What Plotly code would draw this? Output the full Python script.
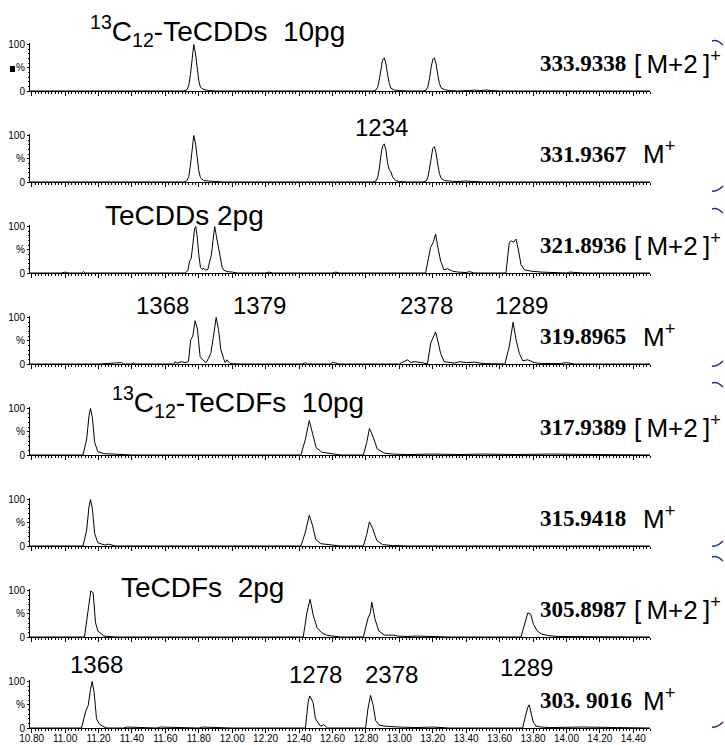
import plotly.graph_objects as go

W, H = 725, 745
X_RANGE = [10.79, 14.50]

# ---------------- data (retention time [min], relative intensity [%]) ----------------
P1_T = [10.79, 11.20, 11.50, 11.71, 11.73, 11.74, 11.75, 11.76, 11.77, 11.78, 11.79, 11.80, 11.81, 11.83, 11.86, 11.90,
        12.20, 12.50, 12.84, 12.86, 12.87, 12.88, 12.89, 12.90, 12.91, 12.92, 12.93, 12.94, 12.95, 12.97, 13.00, 13.05,
        13.14, 13.16, 13.17, 13.18, 13.19, 13.20, 13.21, 13.22, 13.23, 13.24, 13.25, 13.27, 13.30, 13.35, 13.42, 13.45,
        13.48, 13.52, 13.55, 13.60, 14.50]
P1_I = [0, 0, 0, 0, 3, 12, 35, 75, 100, 82, 50, 22, 8, 3, 1, 0,
        0, 0, 0, 2, 8, 24, 50, 68, 71, 58, 35, 16, 6, 2, 1, 0,
        0, 2, 8, 25, 50, 68, 71, 58, 35, 16, 7, 3, 1, 0, 1, 2,
        1, 2, 1, 0, 0]

P2_T = [10.79, 11.71, 11.73, 11.74, 11.75, 11.76, 11.77, 11.78, 11.79, 11.80, 11.81, 11.83, 11.86, 11.90, 11.95,
        12.84, 12.86, 12.87, 12.88, 12.89, 12.90, 12.91, 12.92, 12.93, 12.94, 12.95, 12.96, 12.98, 13.00, 13.05,
        13.14, 13.16, 13.17, 13.18, 13.19, 13.20, 13.21, 13.22, 13.23, 13.24, 13.25, 13.27, 13.30, 13.35, 13.40,
        13.45, 13.50, 14.50]
P2_I = [0, 0, 3, 12, 36, 76, 100, 84, 52, 24, 9, 3, 2, 1, 0,
        0, 2, 9, 28, 58, 78, 82, 68, 40, 26, 22, 10, 3, 1, 0,
        0, 2, 9, 28, 55, 72, 76, 62, 38, 18, 8, 3, 2, 1, 2,
        1, 0, 0]

P3_T = [10.79, 10.98, 11.00, 11.02, 11.10, 11.11, 11.12, 11.72, 11.735, 11.745, 11.755, 11.765, 11.775, 11.782,
        11.79, 11.80, 11.81, 11.82, 11.83, 11.84, 11.855, 11.865, 11.875, 11.885, 11.895, 11.905, 11.912, 11.92,
        11.93, 11.94, 11.95, 11.97, 12.00, 12.03, 12.20, 12.22, 12.24, 12.60, 12.62, 12.64, 13.157, 13.187, 13.203,
        13.217, 13.227, 13.247, 13.267, 13.288, 13.318, 13.35, 13.40, 13.42, 13.45, 13.638, 13.658, 13.672, 13.684,
        13.698, 13.712, 13.728, 13.748, 13.788, 13.848, 13.90, 14.00, 14.02, 14.10, 14.50]
P3_I = [0, 0, 2, 0, 0, 3, 0, 0, 6, 25, 32, 60, 95, 100,
        80, 40, 12, 8, 10, 6, 8, 25, 38, 70, 100, 80, 66, 58,
        30, 12, 6, 3, 2, 0, 0, 2, 0, 0, 2, 0, 0, 55, 66,
        84, 62, 26, 7, 9, 4, 2, 1, 3, 0, 0, 66, 69, 66,
        73, 51, 18, 7, 4, 2, 1, 0, 2, 0, 0]

P4_T = [10.79, 11.20, 11.338, 11.35, 11.40, 11.408, 11.42, 11.65, 11.658, 11.67, 11.698, 11.718, 11.738, 11.752,
        11.764, 11.778, 11.792, 11.808, 11.824, 11.844, 11.848, 11.872, 11.888, 11.904, 11.918, 11.932, 11.948,
        11.958, 11.968, 11.988, 12.05, 12.42, 12.438, 12.45, 12.59, 12.60, 12.62, 12.64, 13.00, 13.048, 13.07,
        13.088, 13.138, 13.168, 13.188, 13.203, 13.217, 13.231, 13.247, 13.268, 13.30, 13.33, 13.36, 13.40, 13.45,
        13.50, 13.632, 13.658, 13.681, 13.698, 13.718, 13.738, 13.768, 13.808, 13.85, 13.95, 13.97, 14.00, 14.05,
        14.50]
P4_I = [0, 0, 3, 0, 0, 3, 0, 0, 5, 2, 5, 3, 5, 53,
        60, 93, 75, 16, 9, 3, 5, 23, 60, 100, 74, 31, 12,
        3, 9, 1, 0, 0, 3, 0, 0, 4, 2, 0, 0, 9, 3,
        5, 3, 0, 45, 56, 69, 49, 23, 5, 4, 2, 5, 3, 4,
        1, 0, 38, 90, 53, 23, 7, 9, 3, 1, 2, 1, 3, 0,
        0]

P5_T = [10.79, 11.107, 11.129, 11.143, 11.152, 11.163, 11.177, 11.196, 11.232, 11.33, 11.40, 12.411, 12.438,
        12.461, 12.48, 12.502, 12.536, 12.605, 12.65, 12.785, 12.805, 12.821, 12.841, 12.868, 12.91, 12.96, 13.05,
        13.20, 13.35, 13.50, 13.70, 13.90, 14.10, 14.30, 14.50]
P5_I = [0, 0, 34, 84, 100, 81, 27, 7, 3, 2, 0, 0, 34,
        74, 49, 16, 6, 2, 0, 0, 27, 57, 41, 13, 4, 2, 1,
        2, 1, 2, 1, 2, 1, 1, 0]

P6_T = [10.79, 11.107, 11.129, 11.143, 11.152, 11.163, 11.177, 11.196, 11.22, 11.24, 11.26, 11.30, 12.411,
        12.438, 12.461, 12.48, 12.50, 12.53, 12.60, 12.65, 12.785, 12.805, 12.821, 12.84, 12.865, 12.90, 12.96,
        13.05, 14.50]
P6_I = [0, 0, 34, 84, 100, 81, 27, 7, 4, 2, 4, 0, 0,
        30, 66, 45, 14, 5, 2, 0, 0, 25, 52, 38, 12, 3, 1,
        0, 0]

P7_T = [10.79, 11.116, 11.141, 11.154, 11.168, 11.182, 11.196, 11.213, 11.232, 11.30, 12.425, 12.447, 12.466,
        12.486, 12.508, 12.536, 12.564, 12.60, 12.65, 12.785, 12.813, 12.827, 12.835, 12.855, 12.877, 12.91, 12.965,
        12.99, 13.05, 13.10, 13.20, 13.30, 13.728, 13.756, 13.769, 13.786, 13.803, 13.825, 13.853, 13.894, 13.95,
        14.50]
P7_I = [0, 0, 66, 99, 95, 31, 13, 8, 2, 0, 0, 52, 81,
        45, 20, 9, 4, 2, 0, 0, 41, 52, 75, 38, 13, 4, 4,
        2, 1, 2, 1, 0, 0, 38, 52, 49, 27, 13, 6, 3, 1,
        0]

P8_T = [10.79, 11.098, 11.124, 11.138, 11.152, 11.162, 11.174, 11.188, 11.204, 11.224, 11.25, 11.35, 11.37,
        11.55, 11.57, 11.80, 11.82, 12.00, 12.438, 12.454, 12.464, 12.474, 12.484, 12.498, 12.512, 12.528, 12.548,
        12.57, 12.798, 12.812, 12.828, 12.844, 12.858, 12.878, 12.908, 12.948, 13.00, 13.10, 13.20, 13.30, 13.738,
        13.753, 13.768, 13.777, 13.787, 13.801, 13.818, 13.848, 13.90, 14.10, 14.30, 14.50]
P8_I = [0, 0, 37, 48, 83, 100, 76, 20, 9, 4, 0, 0, 2,
        0, 2, 0, 2, 0, 0, 55, 69, 63, 55, 20, 13, 4, 7,
        0, 0, 41, 70, 48, 16, 7, 4, 3, 2, 1, 2, 0, 0,
        23, 44, 50, 37, 13, 4, 2, 1, 2, 1, 0]

TRACE_T = [P1_T, P2_T, P3_T, P4_T, P5_T, P6_T, P7_T, P8_T]
TRACE_I = [P1_I, P2_I, P3_I, P4_I, P5_I, P6_I, P7_I, P8_I]

MASS_LABELS = ["333.9338", "331.9367", "321.8936", "319.8965",
               "317.9389", "315.9418", "305.8987", "303. 9016"]
ION_LABELS = ["[\u2009M+2\u2009]<sup>+</sup>", "M<sup>+</sup>", "[\u2009M+2\u2009]<sup>+</sup>", "M<sup>+</sup>",
              "[\u2009M+2\u2009]<sup>+</sup>", "M<sup>+</sup>", "[\u2009M+2\u2009]<sup>+</sup>", "M<sup>+</sup>"]

X_TICK_VALS = [10.8, 11.0, 11.2, 11.4, 11.6, 11.8, 12.0, 12.2, 12.4, 12.6, 12.8, 13.0, 13.2, 13.4, 13.6,
               13.8, 14.0, 14.2, 14.4]
X_TICK_TEXT = ["10.80", "11.00", "11.20", "11.40", "11.60", "11.80", "12.00", "12.20", "12.40", "12.60",
               "12.80", "13.00", "13.20", "13.40", "13.60", "13.80", "14.00", "14.20", "14.40"]
Y_TICK_VALS = [0, 50, 100]
Y_TICK_TEXT = ["0", "%", "100"]

# in-plot text labels: (text, panel index, retention time of left edge, offset px above baseline)
ISOMER_LABELS = [
    ("1234", 1, 12.72, 55),
    ("1368", 3, 11.41, 59),
    ("1379", 3, 11.99, 59),
    ("2378", 3, 12.99, 59),
    ("1289", 3, 13.56, 59),
    ("1368", 7, 11.02, 64),
    ("1278", 7, 12.33, 54),
    ("2378", 7, 12.78, 54),
    ("1289", 7, 13.59, 61),
]
GROUP_TITLES = [
    ("<sup>13</sup>C<sub>12</sub>-TeCDDs\u00a0\u00a010pg", 0, 11.14, 60),
    ("TeCDDs 2pg", 2, 11.225, 58),
    ("<sup>13</sup>C<sub>12</sub>-TeCDFs\u00a0\u00a010pg", 4, 11.27, 53),
    ("TeCDFs\u00a0\u00a02pg", 6, 11.32, 50),
]

# ---------------- layout geometry ----------------
X0_PX, X1_PX = 30, 650
BASE0, STEP = 91, 91
PANEL_PX = 46.5
Y_TOP = 104


def base_px(i):
    return BASE0 + STEP * i


fig = go.Figure()
SANS = "Liberation Sans, Arial, sans-serif"
NARROW = "Liberation Sans Narrow, Arial Narrow, Liberation Sans, sans-serif"
SERIF = "Liberation Serif, Times New Roman, serif"

annotations = []
for i in range(8):
    ax = "" if i == 0 else str(i + 1)
    fig.add_trace(go.Scatter(x=TRACE_T[i], y=TRACE_I[i], mode="lines",
                             line=dict(color="black", width=1), xaxis="x" + ax, yaxis="y" + ax,
                             showlegend=False, hoverinfo="skip"))
    b = base_px(i)
    top = b - PANEL_PX * Y_TOP / 100.0
    fig.layout["xaxis" + ax] = dict(
        domain=[X0_PX / W, X1_PX / W], range=X_RANGE, anchor="y" + ax, automargin=False,
        showline=True, linecolor="black", linewidth=1, showgrid=False, zeroline=False,
        ticks="outside", ticklen=4, tickwidth=1, tickcolor="black",
        tickmode="array", tickvals=X_TICK_VALS, ticktext=X_TICK_TEXT,
        showticklabels=(i == 7), ticklabelstandoff=-3,
        tickfont=dict(family=NARROW, size=10, color="black"),
        minor=dict(ticks="outside", ticklen=2, tickcolor="black", dtick=0.02, tick0=10.8, showgrid=False),
    )
    fig.layout["yaxis" + ax] = dict(
        domain=[(H - b) / H, (H - top) / H], range=[0, Y_TOP], anchor="x" + ax, automargin=False,
        showline=True, linecolor="black", linewidth=1, showgrid=False, zeroline=False,
        ticks="outside", ticklen=2, tickcolor="black",
        tickmode="array", tickvals=Y_TICK_VALS, ticktext=Y_TICK_TEXT,
        tickfont=dict(family=NARROW, size=10, color="black"),
        minor=dict(ticks="outside", ticklen=1, tickcolor="black",
                   tickmode="array", tickvals=[10, 20, 30, 40, 60, 70, 80, 90]),
    )
    annotations.append(dict(xref="paper", yref="paper", x=538 / W, y=1 - (b - 28) / H,
                            xanchor="left", yanchor="middle", showarrow=False,
                            text="<b>%s</b>" % MASS_LABELS[i],
                            font=dict(family=SERIF, size=23, color="black")))
    ion_x = 632 if "M+2" in ION_LABELS[i] else 641
    annotations.append(dict(xref="paper", yref="paper", x=ion_x / W, y=1 - (b - 29) / H,
                            xanchor="left", yanchor="middle", showarrow=False,
                            text=ION_LABELS[i], font=dict(family=SANS, size=26, color="black")))

for txt, p, t, off in ISOMER_LABELS:
    ax = "" if p == 0 else str(p + 1)
    annotations.append(dict(xref="x" + ax, yref="paper", x=t, y=1 - (base_px(p) - off) / H,
                            xanchor="left", yanchor="middle", showarrow=False, text=txt,
                            font=dict(family=SANS, size=24, color="black")))
for txt, p, t, off in GROUP_TITLES:
    ax = "" if p == 0 else str(p + 1)
    annotations.append(dict(xref="x" + ax, yref="paper", x=t, y=1 - (base_px(p) - off) / H,
                            xanchor="left", yanchor="middle", showarrow=False, text=txt,
                            font=dict(family=SANS, size=28, color="black")))

shapes = [
    dict(type="rect", xref="paper", yref="paper", x0=10 / W, x1=15 / W, y0=1 - 72 / H, y1=1 - 66 / H,
         fillcolor="black", line=dict(width=0)),
]
for yy in [42, 210, 384, 558]:
    shapes.append(dict(type="path", xref="paper", yref="paper",
                       path="M %f %f Q %f %f %f %f" % (712 / W, 1 - (yy - 1) / H, 717 / W, 1 - (yy - 3) / H,
                                                       723 / W, 1 - (yy + 3) / H),
                       line=dict(color="#1a2fa0", width=1.5)))
for yy in [190, 365, 545, 726]:
    shapes.append(dict(type="path", xref="paper", yref="paper",
                       path="M %f %f Q %f %f %f %f" % (712 / W, 1 - (yy + 1) / H, 717 / W, 1 - (yy + 2) / H,
                                                       723 / W, 1 - (yy - 4) / H),
                       line=dict(color="#1a2fa0", width=1.5)))

fig.update_layout(width=W, height=H, autosize=False, margin=dict(l=0, r=0, t=0, b=0),
                  paper_bgcolor="white", plot_bgcolor="white",
                  annotations=annotations, shapes=shapes)

fig.write_html("out.html", config={"displayModeBar": False},
               post_script="document.body.style.margin='0';")
